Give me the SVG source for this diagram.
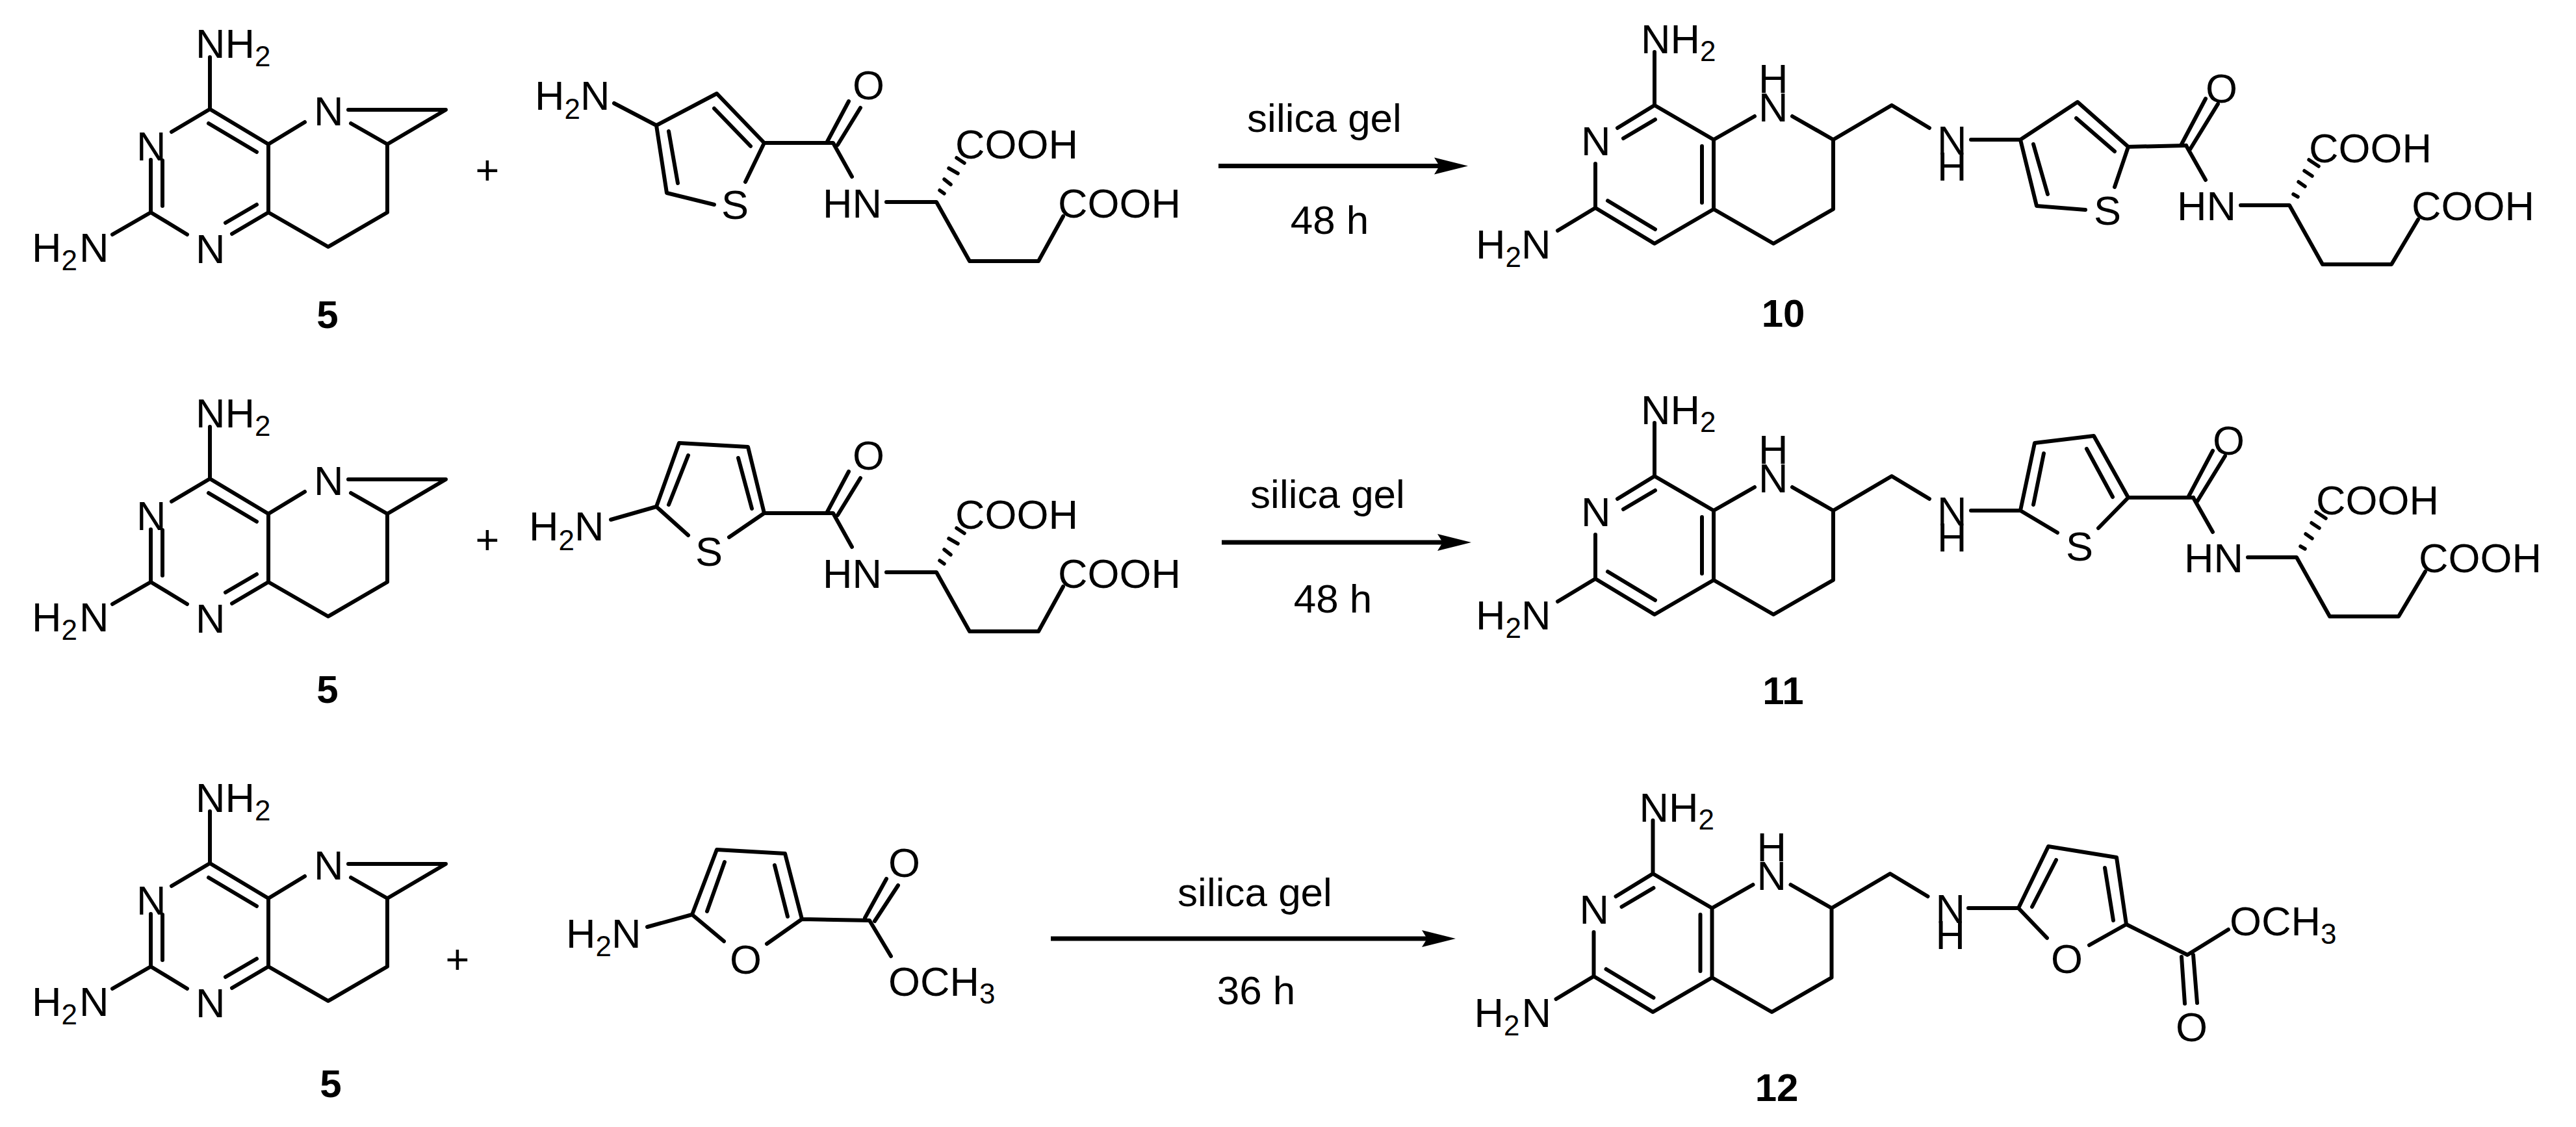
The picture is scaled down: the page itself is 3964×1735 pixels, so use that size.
<svg xmlns="http://www.w3.org/2000/svg" xmlns:xlink="http://www.w3.org/1999/xlink" width="3964" height="1735" viewBox="0 0 3964 1735">
<style>
text{font-family:"Liberation Sans",Arial,sans-serif;font-size:63px;fill:#000}
.s{font-size:44px}
.b{font-weight:bold;font-size:60px;text-anchor:middle}
.c{text-anchor:middle;font-size:62px}
.bond{fill:none;stroke:#000;stroke-width:6;stroke-linecap:round;stroke-linejoin:round}
.hash{fill:none;stroke:#000;stroke-width:5.5;stroke-linecap:round}
.arrow{fill:none;stroke:#000;stroke-width:7;marker-end:url(#head)}
</style>
<defs>
<marker id="head" markerUnits="userSpaceOnUse" markerWidth="56" markerHeight="30" refX="8" refY="15" orient="auto" overflow="visible"><path d="M0 2L52 15L0 28L8 15Z" fill="#000"/></marker>
<path id="core5" class="bond" d="M323 88V168L264 203M323 168L413 222M321 190L395 234M413 222V327M413 222L469 188M536 169H686L596 222M540 190L596 222V327L505 380L413 327M413 327L357 360M395 315L347 343M232 327L288 361M232 327V246M250 317V247M232 327L173 361"/>
<path id="coreP" class="bond" d="M2546 80V162L2489 197M2547 184L2498 213M2546 162L2637 215V322M2619 225V312M2637 215L2700 179M2758 179L2821 215V322L2729 375L2637 322L2546 375L2455 320V252M2547 353L2474 309M2455 320L2397 355M2821 215L2911 162L2969 197"/>
<g id="tailR">
<path class="bond" d="M1176 220H1282L1311 272M1273 218L1306 156M1289 223L1324 166M1364 311H1441L1492 402H1598L1636 333"/>
<path class="hash" d="M1446 293L1453 298M1453 276L1463 284M1460 259L1474 267M1472 243L1484 251"/>
</g>
<g id="tailP">
<path class="bond" d="M3364 224L3394 277M3357 222L3394 152M3370 230L3413 160M3448 316H3523L3574 407H3680L3721 338"/>
<path class="hash" d="M3529 299L3536 303M3537 280L3547 287M3546 263L3558 271M3553 246L3568 256"/>
</g>
</defs>
<rect width="3964" height="1735" fill="#fff"/>

<g id="compound-5-a">
<use href="#core5"/>
<text x="301" y="89">NH<tspan class="s" dy="13">2</tspan></text>
<text x="210" y="247">N</text>
<text x="483" y="193">N</text>
<text x="301" y="405">N</text>
<text x="49" y="403">H<tspan class="s" dy="13">2</tspan><tspan dy="-13" dx="3">N</tspan></text>
<text class="b" x="504" y="505">5</text>
</g>
<g id="plus-a"><text x="750" y="284" text-anchor="middle">+</text></g>

<g id="reactant-a">
<use href="#tailR"/>
<path class="bond" d="M945 159L1010 193L1103 144L1176 220M1099 167L1155 225M1010 193L1026 297L1099 315M1029 202L1043 282M1176 220L1147 280"/>
<text x="823" y="169">H<tspan class="s" dy="14">2</tspan><tspan dy="-14">N</tspan></text>
<text x="1110" y="337">S</text>
<text x="1312" y="153">O</text>
<text x="1266" y="335">HN</text>
<text x="1470" y="244">COOH</text>
<text x="1628" y="335">COOH</text>
</g>

<g id="compound-10">
<use href="#coreP"/>
<use href="#tailP"/>
<path class="bond" d="M3033 215H3109L3197 157L3275 226M3195 182L3254 233M3109 215L3134 317L3209 323M3129 222L3151 299M3275 226L3254 288M3275 226L3364 224"/>
<text x="2525" y="82">NH<tspan class="s" dy="12">2</tspan></text>
<text x="2433" y="239">N</text>
<text x="2706" y="143">H</text>
<text x="2706" y="187">N</text>
<text x="2271" y="398">H<tspan class="s" dy="13">2</tspan><tspan dy="-13">N</tspan></text>
<text x="2981" y="238">N</text>
<text x="2981" y="278">H</text>
<text x="3222" y="346">S</text>
<text x="3394" y="158">O</text>
<text x="3350" y="339">HN</text>
<text x="3553" y="250">COOH</text>
<text x="3711" y="339">COOH</text>
<text class="b" x="2744" y="503">10</text>
</g>

<g id="compound-5-b">
<g transform="translate(0 569)">
<use href="#core5"/>
<text x="301" y="89">NH<tspan class="s" dy="13">2</tspan></text>
<text x="210" y="247">N</text>
<text x="483" y="193">N</text>
<text x="301" y="405">N</text>
<text x="49" y="403">H<tspan class="s" dy="13">2</tspan><tspan dy="-13" dx="3">N</tspan></text>
</g>
<text class="b" x="504" y="1082">5</text>
</g>
<g id="plus-b"><text x="750" y="853" text-anchor="middle">+</text></g>

<g id="reactant-b">
<g transform="translate(0 570)">
<use href="#tailR"/>
<text x="1312" y="153">O</text>
<text x="1266" y="335">HN</text>
<text x="1470" y="244">COOH</text>
<text x="1628" y="335">COOH</text>
</g>
<path class="bond" d="M940 800L1010 780L1045 682L1151 688L1176 790M1029 777L1059 701M1136 705L1157 783M1010 780L1059 824M1176 790L1122 827"/>
<text x="814" y="832">H<tspan class="s" dy="15">2</tspan><tspan dy="-15">N</tspan></text>
<text x="1070" y="871">S</text>
</g>

<g id="compound-11">
<g transform="translate(0 571)">
<use href="#coreP"/>
<text x="2525" y="82">NH<tspan class="s" dy="12">2</tspan></text>
<text x="2433" y="239">N</text>
<text x="2706" y="143">H</text>
<text x="2706" y="187">N</text>
<text x="2271" y="398">H<tspan class="s" dy="13">2</tspan><tspan dy="-13">N</tspan></text>
<text x="2981" y="238">N</text>
<text x="2981" y="278">H</text>
</g>
<g transform="translate(11 542)">
<use href="#tailP"/>
<text x="3394" y="158">O</text>
<text x="3350" y="339">HN</text>
<text x="3553" y="250">COOH</text>
<text x="3711" y="339">COOH</text>
</g>
<path class="bond" d="M3033 786H3109L3131 682L3222 671L3275 766M3129 777L3145 698M3211 691L3251 765M3109 786L3166 820M3275 766L3229 813M3275 766H3375"/>
<text x="3179" y="863">S</text>
<text class="b" x="2744" y="1084">11</text>
</g>

<g id="compound-5-c">
<g transform="translate(0 1161)">
<use href="#core5"/>
<text x="301" y="89">NH<tspan class="s" dy="13">2</tspan></text>
<text x="210" y="247">N</text>
<text x="483" y="193">N</text>
<text x="301" y="405">N</text>
<text x="49" y="403">H<tspan class="s" dy="13">2</tspan><tspan dy="-13" dx="3">N</tspan></text>
</g>
<text class="b" x="509" y="1689">5</text>
</g>
<g id="plus-c"><text x="704" y="1499" text-anchor="middle">+</text></g>

<g id="reactant-c">
<path class="bond" d="M996 1427L1065 1408L1103 1308L1208 1314L1234 1415M1088 1403L1115 1327M1192 1332L1212 1411M1065 1408L1114 1449M1234 1415L1180 1453M1234 1415L1338 1417L1371 1472M1331 1413L1364 1353M1346 1418L1382 1363"/>
<text x="871" y="1459">H<tspan class="s" dy="13">2</tspan><tspan dy="-13">N</tspan></text>
<text x="1123" y="1499">O</text>
<text x="1367" y="1350">O</text>
<text x="1367" y="1533">OCH<tspan class="s" dy="12">3</tspan></text>
</g>

<g id="compound-12">
<g transform="translate(-2.5 1183)">
<use href="#coreP"/>
<text x="2525" y="82">NH<tspan class="s" dy="12">2</tspan></text>
<text x="2433" y="239">N</text>
<text x="2706" y="143">H</text>
<text x="2706" y="187">N</text>
<text x="2271" y="398">H<tspan class="s" dy="13">2</tspan><tspan dy="-13" dx="3">N</tspan></text>
<text x="2981" y="238">N</text>
<text x="2981" y="278">H</text>
</g>
<path class="bond" d="M3029 1398H3106L3152 1303L3257 1320L3272 1423M3127 1396L3164 1324M3239 1336L3252 1417M3106 1398L3150 1444M3272 1423L3215 1455M3272 1423L3366 1470L3429 1431M3357 1473L3362 1545M3375 1470L3381 1544"/>
<text x="3156" y="1498">O</text>
<text x="3431" y="1440">OCH<tspan class="s" dy="13">3</tspan></text>
<text x="3348" y="1603">O</text>
<text class="b" x="2734" y="1695">12</text>
</g>

<g id="connectors">
<path class="arrow" d="M1875 255.5H2215"/>
<path class="arrow" d="M1880 835H2220"/>
<path class="arrow" d="M1617 1445H2196"/>
</g>
<g id="conditions">
<text class="c" x="2038" y="203">silica gel</text>
<text class="c" x="2046" y="360">48 h</text>
<text class="c" x="2043" y="782">silica gel</text>
<text class="c" x="2051" y="943">48 h</text>
<text class="c" x="1931" y="1395">silica gel</text>
<text class="c" x="1933" y="1546">36 h</text>
</g>
</svg>
